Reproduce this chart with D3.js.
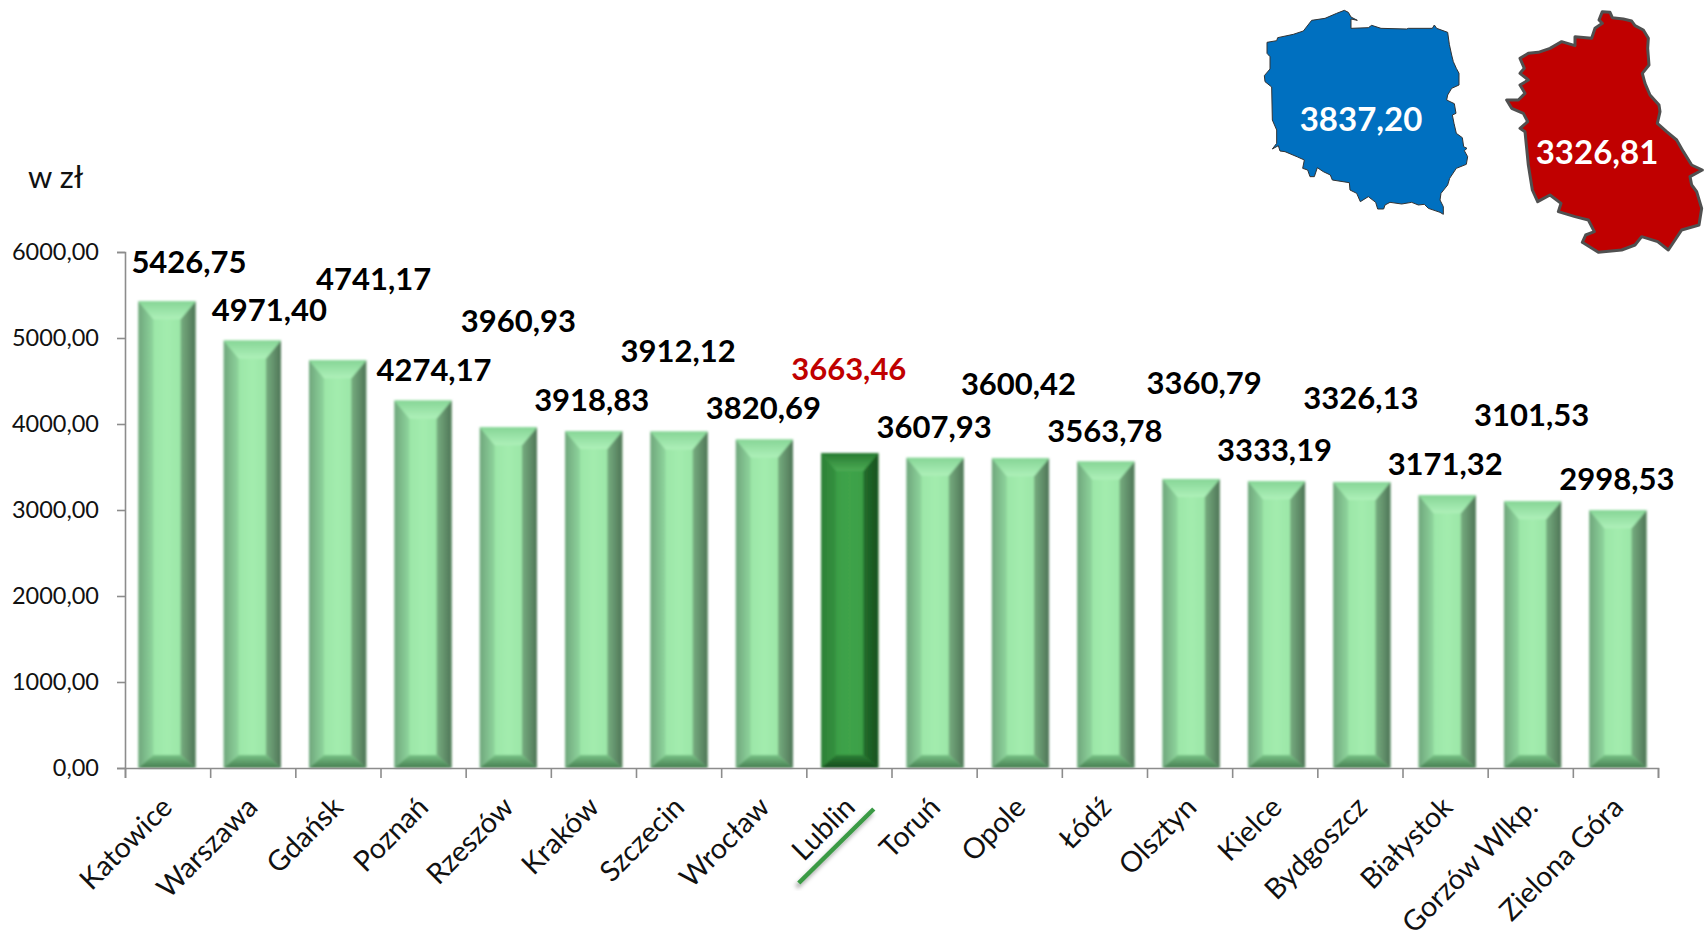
<!DOCTYPE html>
<html>
<head>
<meta charset="utf-8">
<script src="https://cdn.jsdelivr.net/npm/d3@7"></script>
<style>
    body { margin: 0; background: #fff; }
    text { font-family: Lato, sans-serif; }
</style>
</head>
<body>
<svg id="chart" width="1704" height="935"></svg>
<script>
const cities = ['Katowice', 'Warszawa', 'Gdańsk', 'Poznań', 'Rzeszów', 'Kraków', 'Szczecin', 'Wrocław', 'Lublin',
    'Toruń', 'Opole', 'Łódź', 'Olsztyn', 'Kielce', 'Bydgoszcz', 'Białystok', 'Gorzów Wlkp.', 'Zielona Góra'];
const wages = [5426.75, 4971.40, 4741.17, 4274.17, 3960.93, 3918.83, 3912.12, 3820.69, 3663.46,
    3607.93, 3600.42, 3563.78, 3360.79, 3333.19, 3326.13, 3171.32, 3101.53, 2998.53];
const yTicks = [0, 1000, 2000, 3000, 4000, 5000, 6000];
const highlighted = 'Lublin';
const polandValue = 3837.20;
const lubelskieValue = 3326.81;

// the value labels sit staggered in the original, so each one has its own offset from the bar top
const labelDx = [22, 17, 36, 11, 10, -2, -1, -1, -1, -1, -2, -1, 13, -2, -1, -2, -1, -1];
const labelLift = [39, 30, 81, 30, 106, 31, 80, 31, 84, 31, 74, 30, 96, 31, 84, 31, 86, 31];

const polandOutline = [[268,16],[280,22],[288,36],[307,46],[288,42],[288,70],[340,68],[350,61],[378,70],[455,72],[460,70],
    [532,70],[538,60],[545,70],[578,82],[583,118],[590,150],[595,170],[604,190],[612,205],[612,240],[590,250],[578,270],
    [575,285],[598,296],[603,325],[592,330],[597,355],[604,385],[622,398],[626,425],[636,430],[628,437],[638,455],[634,478],
    [604,490],[584,520],[578,540],[558,565],[555,585],[565,605],[565,628],[555,622],[520,610],[508,598],[490,600],[470,592],
    [440,597],[405,592],[390,600],[386,612],[368,612],[362,592],[340,575],[316,590],[305,565],[285,555],[283,533],[232,525],
    [226,510],[205,500],[187,488],[178,515],[165,515],[158,495],[143,490],[148,465],[128,456],[90,440],[75,438],[70,422],
    [52,432],[65,415],[65,375],[52,345],[50,246],[30,230],[28,212],[45,192],[45,155],[36,145],[36,112],[65,107],[68,98],
    [115,88],[145,78],[170,46],[210,40],[245,25]];
const lubelskieOutline = [[322,20],[345,22],[352,38],[385,42],[410,48],[420,62],[445,75],[460,100],[458,130],[462,180],
    [442,205],[450,235],[465,270],[492,300],[495,320],[487,355],[515,380],[545,405],[565,440],[590,480],[622,495],[585,515],
    [590,540],[605,560],[620,610],[612,660],[560,675],[520,735],[488,710],[440,695],[420,720],[380,735],[310,742],[262,712],
    [272,690],[298,680],[280,645],[240,635],[190,620],[198,595],[165,570],[128,590],[112,555],[100,480],[95,430],[90,380],
    [75,370],[98,350],[85,325],[50,310],[35,285],[70,285],[90,265],[75,240],[100,225],[75,205],[88,190],[75,160],[100,145],
    [130,142],[165,130],[200,110],[240,122],[240,95],[290,100],[300,70],[322,55],[312,45]];

const margin = { top: 252, left: 125, bottom: 167, right: 46 };
const width = 1704;
const height = 935;
const innerwidth = width - margin.left - margin.right;
const innerheight = height - margin.top - margin.bottom;
const bevelSide = 15;
const bevelTop = 18;
const bevelBottom = 13;

const formatPl = v => d3.format('.2f')(v).replace('.', ',');

const svg = d3.select('#chart');
const defs = svg.append('defs');

function gradient(id, stops, vertical) {
    const g = defs.append('linearGradient').attr('id', id)
        .attr('x1', 0).attr('y1', 0)
        .attr('x2', vertical ? 0 : 1).attr('y2', vertical ? 1 : 0);
    stops.forEach((c, i) => g.append('stop').attr('offset', i / (stops.length - 1)).attr('stop-color', c));
}
gradient('light-left', ['#6fa67c', '#8fd69d']);
gradient('light-mid', ['#93e0a0', '#a3ecae', '#93e0a0']);
gradient('light-right', ['#77ae80', '#4f7557']);
gradient('light-top', ['#86d596', '#aef0b9'], true);
gradient('light-bottom', ['#78c386', '#467c50'], true);
gradient('dark-left', ['#2c8036', '#359240']);
gradient('dark-mid', ['#369a42', '#3fa34a', '#369a42']);
gradient('dark-right', ['#236d2c', '#18511f']);
gradient('dark-top', ['#277a30', '#4cab55'], true);
gradient('dark-bottom', ['#2c8036', '#154a1b'], true);
defs.append('filter').attr('id', 'soft')
    .append('feGaussianBlur').attr('stdDeviation', 1);
const shadow = defs.append('filter').attr('id', 'shadow');
shadow.append('feDropShadow').attr('dx', -2).attr('dy', 4).attr('stdDeviation', 2)
    .attr('flood-color', '#000').attr('flood-opacity', 0.35);

const canvas = svg.append('g')
    .attr('transform', `translate(${margin.left},${margin.top})`);

// bars run slightly wider than the tick spacing in the original
const xScale = d3.scaleBand()
    .domain(cities)
    .range([-0.7, innerwidth + 2.6])
    .paddingInner(0.33)
    .paddingOuter(0.165);
const xEdges = d3.scaleLinear()
    .domain([0, cities.length])
    .range([0, innerwidth]);
const yScale = d3.scaleLinear()
    .domain([0, 6000])
    .range([innerheight, 0]);

const data = cities.map((city, i) => ({ city, value: wages[i], dx: labelDx[i], lift: labelLift[i] }));

// bars: five facets each, to get the bevel
const bars = canvas.selectAll('.bar')
    .data(data)
    .enter()
    .append('g')
    .attr('class', 'bar')
    .attr('filter', 'url(#soft)');

function facet(name, pts) {
    bars.append('polygon')
        .attr('fill', d => `url(#${d.city === highlighted ? 'dark' : 'light'}-${name})`)
        .attr('points', d => {
            const x0 = xScale(d.city);
            const x1 = x0 + xScale.bandwidth();
            const y0 = yScale(d.value);
            const y1 = yScale(0);
            return pts(x0, x1, y0, y1).join(' ');
        });
}
facet('mid', (x0, x1, y0, y1) => [[x0, y0], [x1, y0], [x1, y1], [x0, y1]]);
facet('left', (x0, x1, y0, y1) => [[x0, y0], [x0 + bevelSide, y0 + bevelTop], [x0 + bevelSide, y1 - bevelBottom], [x0, y1]]);
facet('right', (x0, x1, y0, y1) => [[x1, y0], [x1 - bevelSide, y0 + bevelTop], [x1 - bevelSide, y1 - bevelBottom], [x1, y1]]);
facet('top', (x0, x1, y0) => [[x0, y0], [x1, y0], [x1 - bevelSide, y0 + bevelTop], [x0 + bevelSide, y0 + bevelTop]]);
facet('bottom', (x0, x1, y0, y1) => [[x0, y1], [x1, y1], [x1 - bevelSide, y1 - bevelBottom], [x0 + bevelSide, y1 - bevelBottom]]);

// y axis
const yAxisGroup = canvas.append('g')
    .call(d3.axisLeft(yScale).tickValues(yTicks).tickSize(8).tickPadding(18).tickFormat(formatPl));
yAxisGroup.selectAll('text')
    .attr('font-size', 23.5)
    .attr('fill', '#111');

// x axis: ticks sit on the band edges, labels on the band centres
const xTickGroup = canvas.append('g')
    .attr('transform', `translate(0,${innerheight})`)
    .call(d3.axisBottom(xEdges).tickValues(d3.range(cities.length + 1)).tickSize(10).tickFormat(''));
const xLabelGroup = canvas.append('g')
    .attr('transform', `translate(0,${innerheight})`)
    .call(d3.axisBottom(xScale).tickSize(0));
xLabelGroup.select('.domain').remove();
xLabelGroup.selectAll('text')
    .attr('font-size', 28.5)
    .attr('fill', '#111')
    .attr('text-anchor', 'end')
    .attr('dy', 0)
    .attr('y', 0)
    .attr('transform', 'translate(7,41) rotate(-45)');

[yAxisGroup, xTickGroup].forEach(g => {
    g.selectAll('.domain, .tick line')
        .attr('stroke', '#8c8c8c')
        .attr('stroke-width', 1.6);
});

// value labels
canvas.selectAll('.value')
    .data(data)
    .enter()
    .append('text')
    .attr('class', 'value')
    .text(d => formatPl(d.value))
    .attr('x', d => xScale(d.city) + xScale.bandwidth() / 2 + d.dx)
    .attr('y', d => yScale(d.value) - d.lift)
    .attr('dy', '0.35em')
    .attr('text-anchor', 'middle')
    .attr('font-size', 31)
    .attr('font-weight', 700)
    .attr('fill', d => d.city === highlighted ? '#c00000' : '#000');

// green stroke under the Lublin label
canvas.append('line')
    .attr('x1', xScale(highlighted) + xScale.bandwidth() / 2 - 51)
    .attr('y1', innerheight + 115)
    .attr('x2', xScale(highlighted) + xScale.bandwidth() / 2 + 24)
    .attr('y2', innerheight + 41)
    .attr('stroke', '#3a9a45')
    .attr('stroke-width', 4.5)
    .attr('filter', 'url(#shadow)');

svg.append('text')
    .text('w zł')
    .attr('x', 28)
    .attr('y', 188)
    .attr('font-size', 31)
    .attr('fill', '#111');

// maps
const outlinePath = d3.line().curve(d3.curveLinearClosed);
const mapToPage = (outline, ox, oy) => outline.map(p => [p[0] / 3 + ox, p[1] / 3 + oy]);

svg.append('path')
    .attr('d', outlinePath(mapToPage(polandOutline, 1255, 5)))
    .attr('fill', '#0070c0')
    .attr('stroke', '#333')
    .attr('stroke-width', 1);
svg.append('path')
    .attr('d', outlinePath(mapToPage(lubelskieOutline, 1495, 5)))
    .attr('fill', '#c00000')
    .attr('stroke', '#505050')
    .attr('stroke-width', 3)
    .attr('stroke-linejoin', 'round');

svg.selectAll('.mapValue')
    .data([
        { value: polandValue, x: 1361, y: 119 },
        { value: lubelskieValue, x: 1597, y: 152 }
    ])
    .enter()
    .append('text')
    .attr('class', 'mapValue')
    .text(d => formatPl(d.value))
    .attr('x', d => d.x)
    .attr('y', d => d.y)
    .attr('dy', '0.35em')
    .attr('text-anchor', 'middle')
    .attr('font-size', 33)
    .attr('font-weight', 700)
    .attr('fill', '#fff');
</script>
</body>
</html>
